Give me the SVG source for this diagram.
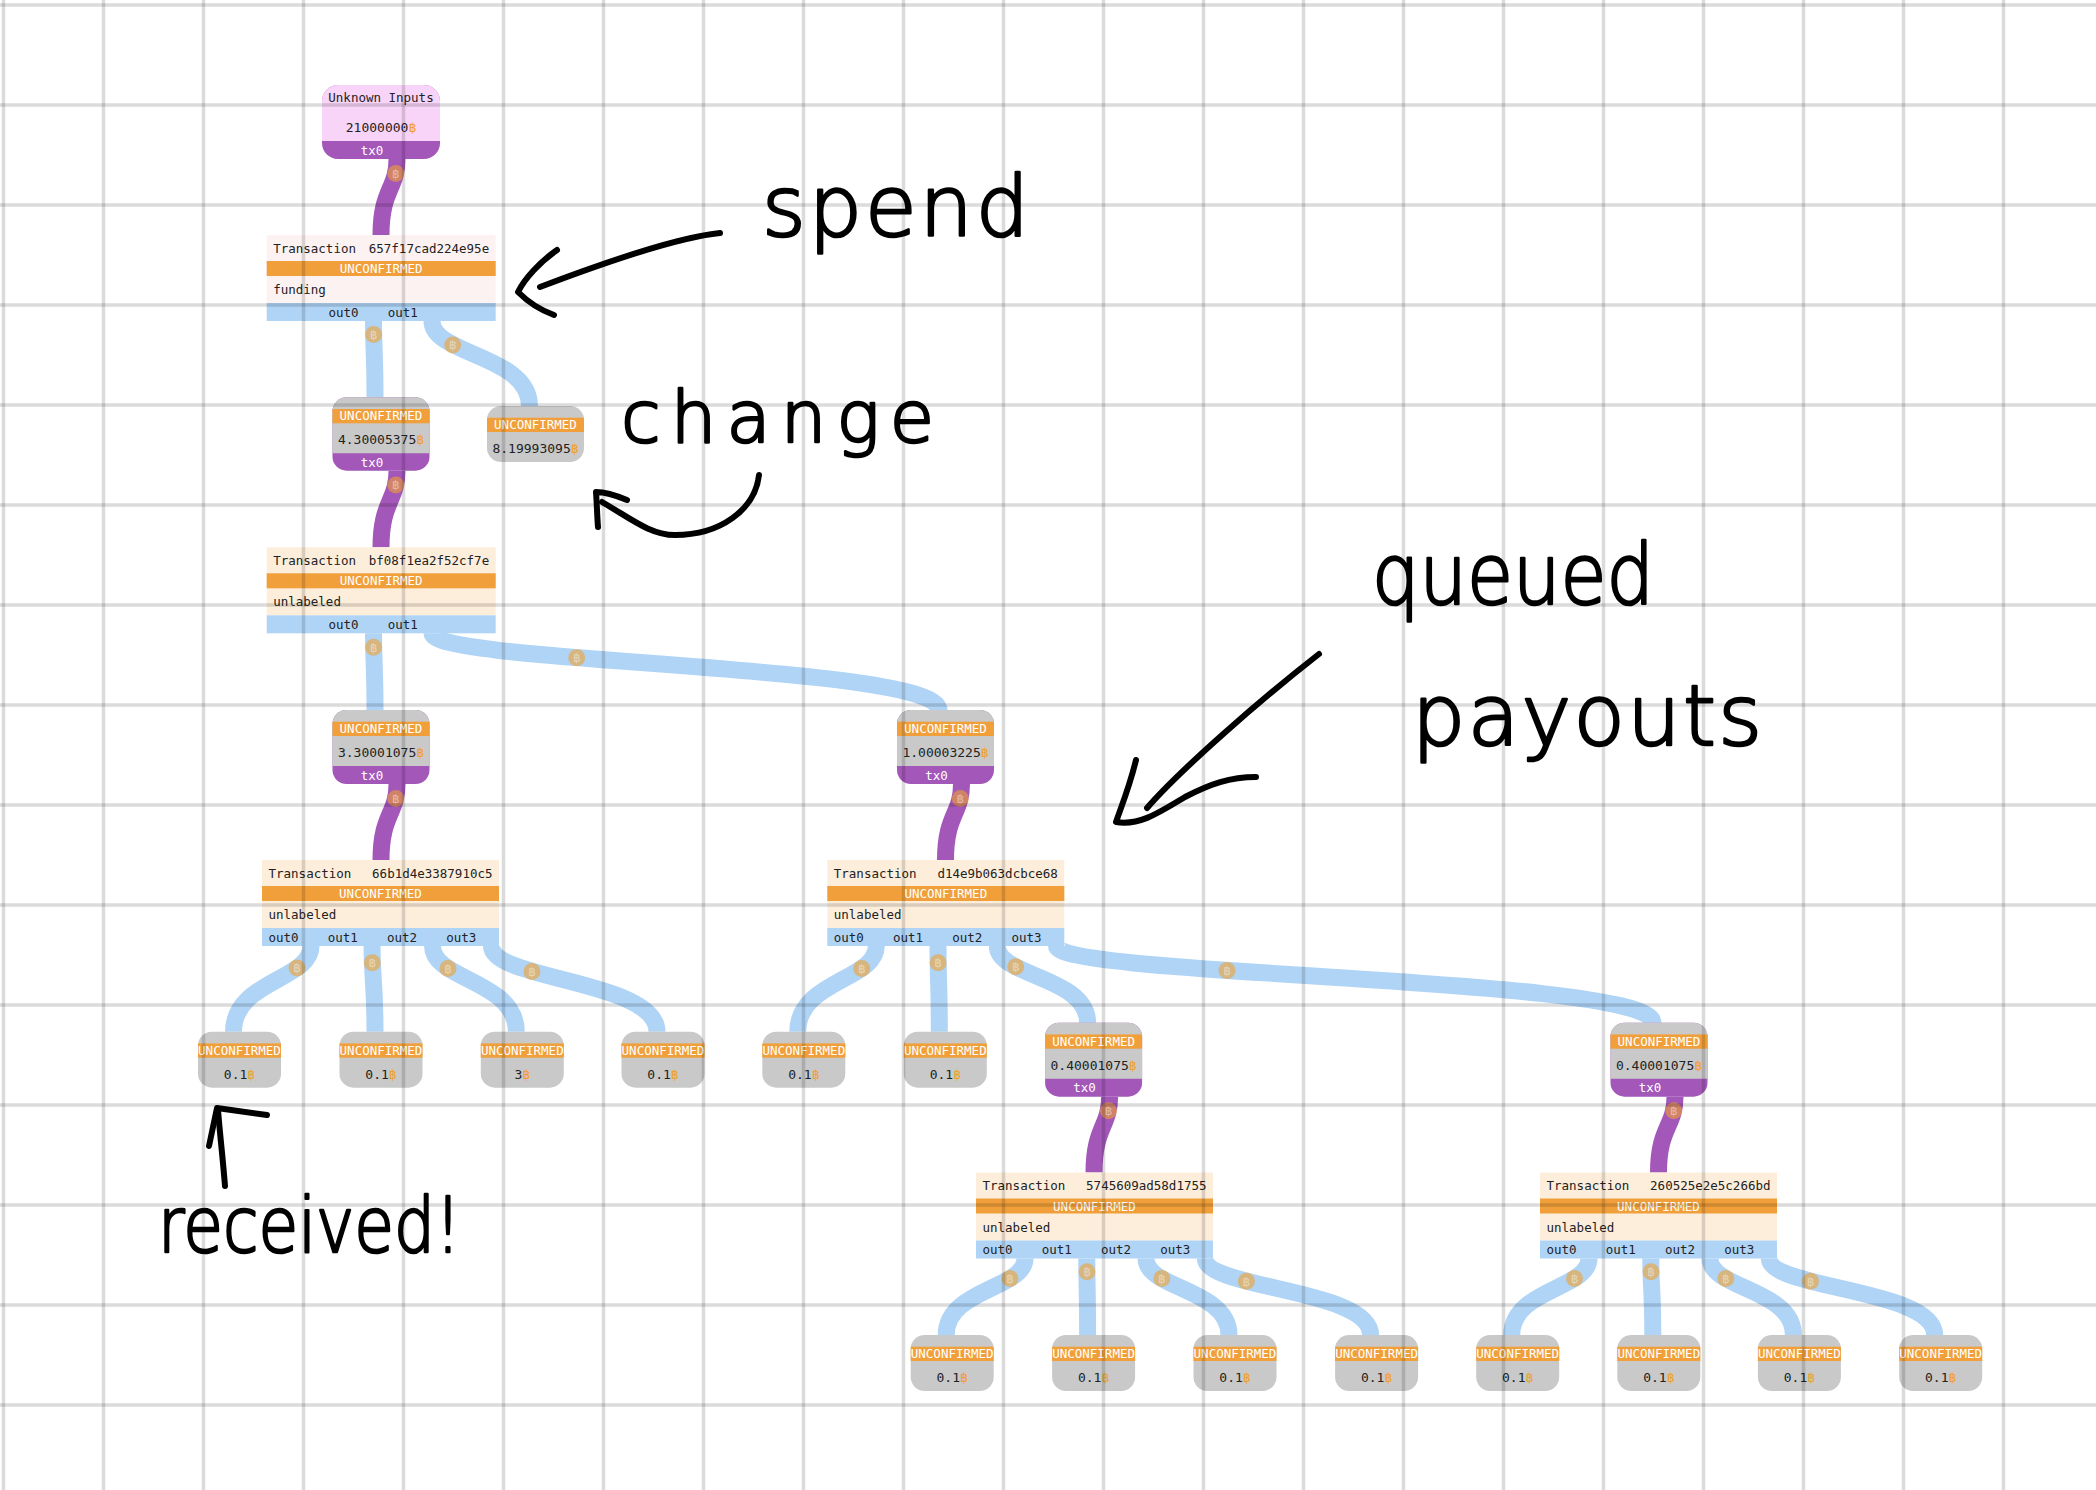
<svg xmlns="http://www.w3.org/2000/svg" width="2096" height="1490" viewBox="0 0 2096 1490">
<style>
.bg{fill:#fff}
.grid{fill:none;stroke:#000;stroke-opacity:.14;stroke-width:3.5}
.e{fill:none;stroke-width:17}
.eb{stroke:#b0d4f6}
.ep{stroke:#a357b9}
.coinc{fill:#f0a030;fill-opacity:.6}
.coint{fill:#fff;fill-opacity:.45;font-family:"DejaVu Sans","Noto Sans",sans-serif;font-size:12px;text-anchor:middle}
.gray{fill:#c9c9c9}
.org{fill:#f09f3a}
.pur{fill:#a357b9}
.pink{fill:#f8d4f8}
.tb1{fill:#fdf2f2}
.tb{fill:#fdeedb}
.blue{fill:#b0d4f6}
.t{font-family:"DejaVu Sans Mono","Liberation Mono",monospace;font-size:12.5px;fill:#222}
.v{font-size:13px}
.m{text-anchor:middle}
.r{text-anchor:end}
.w{fill:#fff}
.btc{fill:#f0a030}
.hand{font-family:"DejaVu Sans","Liberation Sans",sans-serif;font-weight:300;fill:#000;stroke:#000;stroke-width:2.6;stroke-linejoin:round}
.pen{fill:none;stroke:#000;stroke-width:6;stroke-linecap:round;stroke-linejoin:round}
</style>
<defs>
<g id="coin"><circle class="coinc" r="8.5"/><text class="coint" y="4.2">฿</text></g>
</defs>
<rect class="bg" x="0" y="0" width="2096" height="1490"/>

<g id="connectors">
<path class="e ep" d="M397 159 C397 189.4 381 189.4 381 235"/>
<path class="e eb" d="M373.5 321 C373.5 351.5 375 351.5 375 397.3"/>
<path class="e eb" d="M432 321 C432 355 529.5 355 529.5 406"/>
<path class="e ep" d="M397 470.7 C397 501.3 381 501.3 381 547.3"/>
<path class="e eb" d="M373.5 633.3 C373.5 664 375 664 375 710"/>
<path class="e eb" d="M432 633.3 C432 664 939 664 939 710"/>
<path class="e ep" d="M397 784 C397 814.4 381 814.4 381 860"/>
<path class="e ep" d="M961.5 784 C961.5 814.4 945.5 814.4 945.5 860"/>
<path class="e eb" d="M311 946 C311 980.3 233.5 980.3 233.5 1031.7"/>
<path class="e eb" d="M372 946 C372 980.3 375 980.3 375 1031.7"/>
<path class="e eb" d="M432.5 946 C432.5 980.3 516.3 980.3 516.3 1031.7"/>
<path class="e eb" d="M491.5 946 C491.5 980.3 657 980.3 657 1031.7"/>
<path class="e eb" d="M876.3 946 C876.3 980.3 797.8 980.3 797.8 1031.7"/>
<path class="e eb" d="M938 946 C938 980.3 939.3 980.3 939.3 1031.7"/>
<path class="e eb" d="M997.3 946 C997.3 976.7 1087.6 976.7 1087.6 1022.7"/>
<path class="e eb" d="M1056.5 946 C1056.5 976.7 1653 976.7 1653 1022.7"/>
<path class="e ep" d="M1109.6 1096.7 C1109.6 1127 1094 1127 1094 1172.5"/>
<path class="e ep" d="M1675 1096.7 C1675 1127 1658.5 1127 1658.5 1172.5"/>
<path class="e eb" d="M1025 1258.5 C1025 1289 946.2 1289 946.2 1335"/>
<path class="e eb" d="M1086.8 1258.5 C1086.8 1289 1087.6 1289 1087.6 1335"/>
<path class="e eb" d="M1146 1258.5 C1146 1289 1229 1289 1229 1335"/>
<path class="e eb" d="M1205.3 1258.5 C1205.3 1289 1370.6 1289 1370.6 1335"/>
<path class="e eb" d="M1589 1258.5 C1589 1289 1511.7 1289 1511.7 1335"/>
<path class="e eb" d="M1650.8 1258.5 C1650.8 1289 1652.8 1289 1652.8 1335"/>
<path class="e eb" d="M1710 1258.5 C1710 1289 1793.4 1289 1793.4 1335"/>
<path class="e eb" d="M1769.3 1258.5 C1769.3 1289 1934.7 1289 1934.7 1335"/>
<use href="#coin" x="395.8" y="173.5"/>
<use href="#coin" x="373.6" y="334.5"/>
<use href="#coin" x="452.7" y="345"/>
<use href="#coin" x="395.8" y="485"/>
<use href="#coin" x="373.6" y="647.3"/>
<use href="#coin" x="576.7" y="657.7"/>
<use href="#coin" x="395.8" y="798.5"/>
<use href="#coin" x="960.3" y="798.5"/>
<use href="#coin" x="297" y="968"/>
<use href="#coin" x="372.3" y="962.7"/>
<use href="#coin" x="448" y="968.4"/>
<use href="#coin" x="532" y="971.5"/>
<use href="#coin" x="861.7" y="968.5"/>
<use href="#coin" x="938.1" y="962.7"/>
<use href="#coin" x="1015.7" y="966.8"/>
<use href="#coin" x="1227" y="970.5"/>
<use href="#coin" x="1108.5" y="1110.7"/>
<use href="#coin" x="1673.8" y="1110.7"/>
<use href="#coin" x="1010" y="1278.5"/>
<use href="#coin" x="1087" y="1271.7"/>
<use href="#coin" x="1161.8" y="1278.5"/>
<use href="#coin" x="1246.4" y="1281.3"/>
<use href="#coin" x="1574.5" y="1278.5"/>
<use href="#coin" x="1651" y="1271.7"/>
<use href="#coin" x="1725.8" y="1278.5"/>
<use href="#coin" x="1810.5" y="1281.3"/>
</g>

<g id="n-unknown">
<rect class="pur" x="322" y="85" width="118" height="74" rx="16"/>
<path class="pink" d="M322 141 V101 A16 16 0 0 1 338 85 H424 A16 16 0 0 1 440 101 V141 Z"/>
<text class="t m" x="381" y="102">Unknown Inputs</text>
<text class="t v m" x="381" y="131.5">21000000<tspan class="btc">฿</tspan></text>
<text class="t w m" x="372" y="154.5">tx0</text>
</g>

<g id="tx-657f">
<rect class="tb1" x="266.7" y="235" width="229" height="68"/>
<rect class="org" x="266.7" y="261" width="229" height="15"/>
<rect class="blue" x="266.7" y="303" width="229" height="18"/>
<text class="t" x="273.2" y="252.5">Transaction</text>
<text class="t r" x="489.2" y="252.5">657f17cad224e95e</text>
<text class="t w m" x="381.2" y="273">UNCONFIRMED</text>
<text class="t" x="273.2" y="294">funding</text>
<text class="t" x="328.5" y="316.5">out0</text>
<text class="t" x="387.7" y="316.5">out1</text>
</g>

<g id="n-43">
<rect class="pur" x="332.5" y="397.3" width="97" height="73.4" rx="14"/>
<path class="gray" d="M332.5 453.3 V411.3 A14 14 0 0 1 346.5 397.3 H415.5 A14 14 0 0 1 429.5 411.3 V453.3 Z"/>
<rect class="org" x="332.5" y="409" width="97" height="14.3"/>
<text class="t w m" x="381" y="420.3">UNCONFIRMED</text>
<text class="t v m" x="381" y="444.3">4.30005375<tspan class="btc">฿</tspan></text>
<text class="t w m" x="372" y="466.8">tx0</text>
</g>

<g id="n-819">
<rect class="gray" x="487" y="406" width="97" height="56" rx="14"/>
<rect class="org" x="487" y="417.7" width="97" height="14.3"/>
<text class="t w m" x="535.5" y="429">UNCONFIRMED</text>
<text class="t v m" x="535.5" y="453">8.19993095<tspan class="btc">฿</tspan></text>
</g>

<g id="tx-bf08">
<rect class="tb" x="266.7" y="547.3" width="229" height="68"/>
<rect class="org" x="266.7" y="573.3" width="229" height="15"/>
<rect class="blue" x="266.7" y="615.3" width="229" height="18"/>
<text class="t" x="273.2" y="564.8">Transaction</text>
<text class="t r" x="489.2" y="564.8">bf08f1ea2f52cf7e</text>
<text class="t w m" x="381.2" y="585.3">UNCONFIRMED</text>
<text class="t" x="273.2" y="606.3">unlabeled</text>
<text class="t" x="328.5" y="628.8">out0</text>
<text class="t" x="387.7" y="628.8">out1</text>
</g>

<g id="n-33">
<rect class="pur" x="332.5" y="710" width="97" height="74" rx="14"/>
<path class="gray" d="M332.5 766 V724 A14 14 0 0 1 346.5 710 H415.5 A14 14 0 0 1 429.5 724 V766 Z"/>
<rect class="org" x="332.5" y="721.7" width="97" height="14.3"/>
<text class="t w m" x="381" y="733">UNCONFIRMED</text>
<text class="t v m" x="381" y="757">3.30001075<tspan class="btc">฿</tspan></text>
<text class="t w m" x="372" y="779.5">tx0</text>
</g>

<g id="n-10">
<rect class="pur" x="897" y="710" width="97" height="74" rx="14"/>
<path class="gray" d="M897 766 V724 A14 14 0 0 1 911 710 H980 A14 14 0 0 1 994 724 V766 Z"/>
<rect class="org" x="897" y="721.7" width="97" height="14.3"/>
<text class="t w m" x="945.5" y="733">UNCONFIRMED</text>
<text class="t v m" x="945.5" y="757">1.00003225<tspan class="btc">฿</tspan></text>
<text class="t w m" x="936.5" y="779.5">tx0</text>
</g>

<g id="tx-66b1">
<rect class="tb" x="262" y="860" width="237" height="68"/>
<rect class="org" x="262" y="886" width="237" height="15"/>
<rect class="blue" x="262" y="928" width="237" height="18"/>
<text class="t" x="268.5" y="877.5">Transaction</text>
<text class="t r" x="492.5" y="877.5">66b1d4e3387910c5</text>
<text class="t w m" x="380.5" y="898">UNCONFIRMED</text>
<text class="t" x="268.5" y="919">unlabeled</text>
<text class="t" x="268.5" y="941.5">out0</text>
<text class="t" x="327.75" y="941.5">out1</text>
<text class="t" x="387" y="941.5">out2</text>
<text class="t" x="446.25" y="941.5">out3</text>
</g>

<g id="tx-d14e">
<rect class="tb" x="827.3" y="860" width="237" height="68"/>
<rect class="org" x="827.3" y="886" width="237" height="15"/>
<rect class="blue" x="827.3" y="928" width="237" height="18"/>
<text class="t" x="833.8" y="877.5">Transaction</text>
<text class="t r" x="1057.8" y="877.5">d14e9b063dcbce68</text>
<text class="t w m" x="945.8" y="898">UNCONFIRMED</text>
<text class="t" x="833.8" y="919">unlabeled</text>
<text class="t" x="833.8" y="941.5">out0</text>
<text class="t" x="893.05" y="941.5">out1</text>
<text class="t" x="952.3" y="941.5">out2</text>
<text class="t" x="1011.55" y="941.5">out3</text>
</g>

<g id="leaf-a1">
<rect class="gray" x="198" y="1031.7" width="83" height="56" rx="14"/>
<rect class="org" x="198" y="1043.4" width="83" height="14.3"/>
<text class="t w m" x="239.5" y="1054.7">UNCONFIRMED</text>
<text class="t v m" x="239.5" y="1078.7">0.1<tspan class="btc">฿</tspan></text>
</g>
<g id="leaf-a2">
<rect class="gray" x="339.5" y="1031.7" width="83" height="56" rx="14"/>
<rect class="org" x="339.5" y="1043.4" width="83" height="14.3"/>
<text class="t w m" x="381" y="1054.7">UNCONFIRMED</text>
<text class="t v m" x="381" y="1078.7">0.1<tspan class="btc">฿</tspan></text>
</g>
<g id="leaf-a3">
<rect class="gray" x="480.8" y="1031.7" width="83" height="56" rx="14"/>
<rect class="org" x="480.8" y="1043.4" width="83" height="14.3"/>
<text class="t w m" x="522.3" y="1054.7">UNCONFIRMED</text>
<text class="t v m" x="522.3" y="1078.7">3<tspan class="btc">฿</tspan></text>
</g>
<g id="leaf-a4">
<rect class="gray" x="621.5" y="1031.7" width="83" height="56" rx="14"/>
<rect class="org" x="621.5" y="1043.4" width="83" height="14.3"/>
<text class="t w m" x="663" y="1054.7">UNCONFIRMED</text>
<text class="t v m" x="663" y="1078.7">0.1<tspan class="btc">฿</tspan></text>
</g>
<g id="leaf-b1">
<rect class="gray" x="762.3" y="1031.7" width="83" height="56" rx="14"/>
<rect class="org" x="762.3" y="1043.4" width="83" height="14.3"/>
<text class="t w m" x="803.8" y="1054.7">UNCONFIRMED</text>
<text class="t v m" x="803.8" y="1078.7">0.1<tspan class="btc">฿</tspan></text>
</g>
<g id="leaf-b2">
<rect class="gray" x="903.8" y="1031.7" width="83" height="56" rx="14"/>
<rect class="org" x="903.8" y="1043.4" width="83" height="14.3"/>
<text class="t w m" x="945.3" y="1054.7">UNCONFIRMED</text>
<text class="t v m" x="945.3" y="1078.7">0.1<tspan class="btc">฿</tspan></text>
</g>

<g id="n-04a">
<rect class="pur" x="1045.1" y="1022.7" width="97" height="74" rx="14"/>
<path class="gray" d="M1045.1 1078.7 V1036.7 A14 14 0 0 1 1059.1 1022.7 H1128.1 A14 14 0 0 1 1142.1 1036.7 V1078.7 Z"/>
<rect class="org" x="1045.1" y="1034.4" width="97" height="14.3"/>
<text class="t w m" x="1093.6" y="1045.7">UNCONFIRMED</text>
<text class="t v m" x="1093.6" y="1069.7">0.40001075<tspan class="btc">฿</tspan></text>
<text class="t w m" x="1084.6" y="1092.2">tx0</text>
</g>
<g id="n-04b">
<rect class="pur" x="1610.5" y="1022.7" width="97" height="74" rx="14"/>
<path class="gray" d="M1610.5 1078.7 V1036.7 A14 14 0 0 1 1624.5 1022.7 H1693.5 A14 14 0 0 1 1707.5 1036.7 V1078.7 Z"/>
<rect class="org" x="1610.5" y="1034.4" width="97" height="14.3"/>
<text class="t w m" x="1659" y="1045.7">UNCONFIRMED</text>
<text class="t v m" x="1659" y="1069.7">0.40001075<tspan class="btc">฿</tspan></text>
<text class="t w m" x="1650" y="1092.2">tx0</text>
</g>

<g id="tx-5745">
<rect class="tb" x="976" y="1172.5" width="237" height="68"/>
<rect class="org" x="976" y="1198.5" width="237" height="15"/>
<rect class="blue" x="976" y="1240.5" width="237" height="18"/>
<text class="t" x="982.5" y="1190">Transaction</text>
<text class="t r" x="1206.5" y="1190">5745609ad58d1755</text>
<text class="t w m" x="1094.5" y="1210.5">UNCONFIRMED</text>
<text class="t" x="982.5" y="1231.5">unlabeled</text>
<text class="t" x="982.5" y="1254">out0</text>
<text class="t" x="1041.75" y="1254">out1</text>
<text class="t" x="1101" y="1254">out2</text>
<text class="t" x="1160.25" y="1254">out3</text>
</g>
<g id="tx-2605">
<rect class="tb" x="1540" y="1172.5" width="237" height="68"/>
<rect class="org" x="1540" y="1198.5" width="237" height="15"/>
<rect class="blue" x="1540" y="1240.5" width="237" height="18"/>
<text class="t" x="1546.5" y="1190">Transaction</text>
<text class="t r" x="1770.5" y="1190">260525e2e5c266bd</text>
<text class="t w m" x="1658.5" y="1210.5">UNCONFIRMED</text>
<text class="t" x="1546.5" y="1231.5">unlabeled</text>
<text class="t" x="1546.5" y="1254">out0</text>
<text class="t" x="1605.75" y="1254">out1</text>
<text class="t" x="1665" y="1254">out2</text>
<text class="t" x="1724.25" y="1254">out3</text>
</g>

<g id="leaf-c1">
<rect class="gray" x="910.7" y="1335" width="83" height="56" rx="14"/>
<rect class="org" x="910.7" y="1346.7" width="83" height="14.3"/>
<text class="t w m" x="952.2" y="1358">UNCONFIRMED</text>
<text class="t v m" x="952.2" y="1382">0.1<tspan class="btc">฿</tspan></text>
</g>
<g id="leaf-c2">
<rect class="gray" x="1052.1" y="1335" width="83" height="56" rx="14"/>
<rect class="org" x="1052.1" y="1346.7" width="83" height="14.3"/>
<text class="t w m" x="1093.6" y="1358">UNCONFIRMED</text>
<text class="t v m" x="1093.6" y="1382">0.1<tspan class="btc">฿</tspan></text>
</g>
<g id="leaf-c3">
<rect class="gray" x="1193.5" y="1335" width="83" height="56" rx="14"/>
<rect class="org" x="1193.5" y="1346.7" width="83" height="14.3"/>
<text class="t w m" x="1235" y="1358">UNCONFIRMED</text>
<text class="t v m" x="1235" y="1382">0.1<tspan class="btc">฿</tspan></text>
</g>
<g id="leaf-c4">
<rect class="gray" x="1335.1" y="1335" width="83" height="56" rx="14"/>
<rect class="org" x="1335.1" y="1346.7" width="83" height="14.3"/>
<text class="t w m" x="1376.6" y="1358">UNCONFIRMED</text>
<text class="t v m" x="1376.6" y="1382">0.1<tspan class="btc">฿</tspan></text>
</g>
<g id="leaf-d1">
<rect class="gray" x="1476.2" y="1335" width="83" height="56" rx="14"/>
<rect class="org" x="1476.2" y="1346.7" width="83" height="14.3"/>
<text class="t w m" x="1517.7" y="1358">UNCONFIRMED</text>
<text class="t v m" x="1517.7" y="1382">0.1<tspan class="btc">฿</tspan></text>
</g>
<g id="leaf-d2">
<rect class="gray" x="1617.3" y="1335" width="83" height="56" rx="14"/>
<rect class="org" x="1617.3" y="1346.7" width="83" height="14.3"/>
<text class="t w m" x="1658.8" y="1358">UNCONFIRMED</text>
<text class="t v m" x="1658.8" y="1382">0.1<tspan class="btc">฿</tspan></text>
</g>
<g id="leaf-d3">
<rect class="gray" x="1757.9" y="1335" width="83" height="56" rx="14"/>
<rect class="org" x="1757.9" y="1346.7" width="83" height="14.3"/>
<text class="t w m" x="1799.4" y="1358">UNCONFIRMED</text>
<text class="t v m" x="1799.4" y="1382">0.1<tspan class="btc">฿</tspan></text>
</g>
<g id="leaf-d4">
<rect class="gray" x="1899.2" y="1335" width="83" height="56" rx="14"/>
<rect class="org" x="1899.2" y="1346.7" width="83" height="14.3"/>
<text class="t w m" x="1940.7" y="1358">UNCONFIRMED</text>
<text class="t v m" x="1940.7" y="1382">0.1<tspan class="btc">฿</tspan></text>
</g>

<g id="grid">
<path class="grid" d="M3.5 0V1490M103.5 0V1490M203.5 0V1490M303.5 0V1490M403.5 0V1490M503.5 0V1490M603.5 0V1490M703.5 0V1490M803.5 0V1490M903.5 0V1490M1003.5 0V1490M1103.5 0V1490M1203.5 0V1490M1303.5 0V1490M1403.5 0V1490M1503.5 0V1490M1603.5 0V1490M1703.5 0V1490M1803.5 0V1490M1903.5 0V1490M2003.5 0V1490"/>
<path class="grid" d="M0 5H2096M0 105H2096M0 205H2096M0 305H2096M0 405H2096M0 505H2096M0 605H2096M0 705H2096M0 805H2096M0 905H2096M0 1005H2096M0 1105H2096M0 1205H2096M0 1305H2096M0 1405H2096"/>
</g>

<g id="notes">
<text class="hand" x="762" y="236" font-size="84" textLength="267" lengthAdjust="spacing">spend</text>
<path class="pen" d="M720 233 C690 236 640 249 540 287"/>
<path class="pen" d="M557 250 C540 262 525 278 518 292 C528 302 540 310 554 315"/>
<text class="hand" x="621" y="442" font-size="72" textLength="313" lengthAdjust="spacing">change</text>
<path class="pen" d="M759 475 C755 510 720 535 675 535 C650 535 630 518 602 502"/>
<path class="pen" d="M627 500 C615 495 603 492 596 492 C597 505 597 515 598 527"/>
<text class="hand" x="1372" y="604" font-size="84" textLength="282" lengthAdjust="spacingAndGlyphs">queued</text>
<text class="hand" x="1412" y="745" font-size="84" textLength="350" lengthAdjust="spacing">payouts</text>
<path class="pen" d="M1319 654 C1260 700 1180 770 1147 808"/>
<path class="pen" d="M1136 760 C1130 785 1122 805 1116 822 C1140 826 1160 812 1185 797 C1210 784 1230 777 1256 777"/>
<text class="hand" x="158" y="1252" font-size="76" textLength="303" lengthAdjust="spacingAndGlyphs">received!</text>
<path class="pen" d="M225 1186 C223 1160 220 1135 218 1110"/>
<path class="pen" d="M209 1146 L217 1108 L267 1115"/>
</g>
</svg>
